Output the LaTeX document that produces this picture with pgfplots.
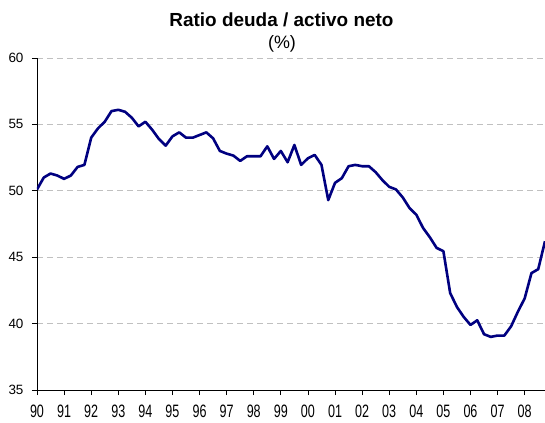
\documentclass[border=0pt]{standalone}
\usepackage{pgfplots}
\pgfplotsset{compat=1.18}
\usepackage{fontspec}
\setmainfont{Liberation Sans}
\newfontfamily\narrowfont[FakeStretch=0.7]{Liberation Sans}
\definecolor{navyline}{RGB}{0,0,128}
\definecolor{gridgray}{RGB}{192,192,192}
\begin{document}
\begin{tikzpicture}
\begin{axis}[
  at={(0,0)}, anchor=south west,
  scale only axis,
  width=508bp, height=332bp,
  xmin=90, xmax=108.75,
  ymin=35, ymax=60,
  axis x line*=bottom,
  axis y line*=left,
  axis line style={black, line width=0.8bp, -},
  xtick={90,...,108},
  xticklabels={90,91,92,93,94,95,96,97,98,99,00,01,02,03,04,05,06,07,08},
  ytick={35,40,45,50,55,60},
  tick align=outside,
  major tick length=5bp,
  tick style={black, line width=0.8bp},
  ymajorgrids,
  grid style={gridgray, dash pattern=on 6bp off 4bp, line width=0.8bp},
  xticklabel style={font=\narrowfont\fontsize{18}{18}\selectfont, anchor=base, yshift=-22bp},
  yticklabel style={font=\fontsize{13.5}{13.5}\selectfont, anchor=east, xshift=-5bp},
  /pgf/number format/assume math mode=true,
  clip=true,
]
\addplot[navyline, line width=2.6bp, line join=round] table {
x y
90.00 50.1
90.25 51.0
90.50 51.3
90.75 51.15
91.00 50.9
91.25 51.15
91.50 51.8
91.75 51.95
92.00 54.0
92.25 54.7
92.50 55.2
92.75 56.0
93.00 56.1
93.25 55.95
93.50 55.5
93.75 54.85
94.00 55.2
94.25 54.6
94.50 53.9
94.75 53.4
95.00 54.1
95.25 54.4
95.50 54.0
95.75 54.0
96.00 54.2
96.25 54.4
96.50 53.95
96.75 53.0
97.00 52.8
97.25 52.65
97.50 52.25
97.75 52.6
98.00 52.6
98.25 52.6
98.50 53.35
98.75 52.4
99.00 53.0
99.25 52.15
99.50 53.45
99.75 51.95
100.00 52.45
100.25 52.7
100.50 51.95
100.75 49.3
101.00 50.6
101.25 50.95
101.50 51.85
101.75 51.95
102.00 51.85
102.25 51.85
102.50 51.4
102.75 50.8
103.00 50.3
103.25 50.1
103.50 49.5
103.75 48.7
104.00 48.2
104.25 47.2
104.50 46.5
104.75 45.7
105.00 45.45
105.25 42.3
105.50 41.25
105.75 40.5
106.00 39.9
106.25 40.25
106.50 39.2
106.75 39.0
107.00 39.1
107.25 39.1
107.50 39.8
107.75 40.9
108.00 41.9
108.25 43.8
108.50 44.1
108.75 46.2
};
\end{axis}
\node[anchor=base, font=\bfseries\fontsize{19}{19}\selectfont, inner sep=0pt] at (244.5bp,363.3bp) {Ratio deuda / activo neto};
\node[anchor=base, font=\fontsize{18}{18}\selectfont, inner sep=0pt] at (245bp,341bp) {(\%)};
\pgfresetboundingbox
\useasboundingbox (-37bp,-33bp) rectangle (508bp,390bp);
\end{tikzpicture}
\end{document}
